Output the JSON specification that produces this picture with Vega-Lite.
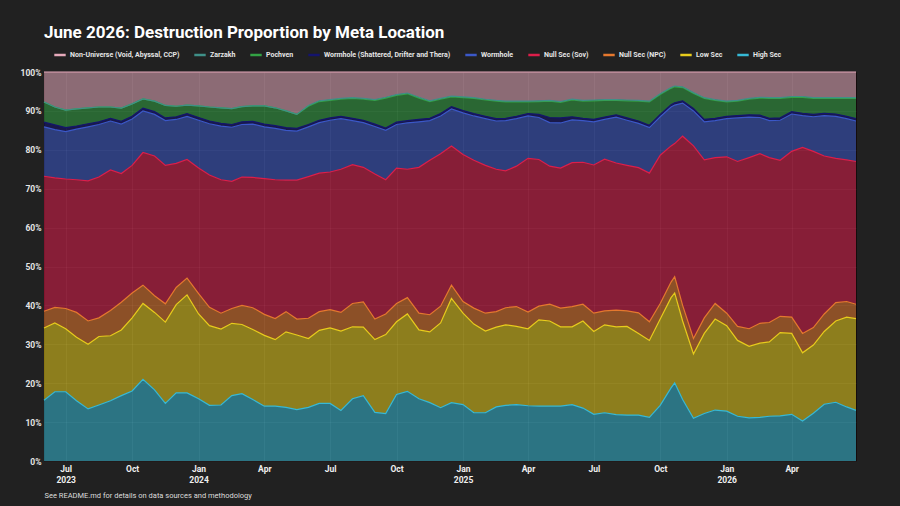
{
  "$schema": "https://vega.github.io/schema/vega-lite/v6.json",
  "description": "Destruction proportion by meta location, June 2023 - June 2026",
  "autosize": {"type": "none"},
  "width": 812,
  "height": 389,
  "padding": {"left": 44, "top": 72, "right": 44, "bottom": 45},
  "background": "#212121",
  "title": {
    "text": "June 2026: Destruction Proportion by Meta Location",
    "anchor": "start",
    "frame": "group",
    "font": "Roboto",
    "fontSize": 17,
    "fontWeight": "bold",
    "color": "#ffffff",
    "offset": 6
  },
  "data": {
    "values": [
      {"d": "2023-06-01", "hs": 15.6, "ls": 18.6, "npc": 4.3, "sov": 34.7, "wh": 12.7, "whs": 1.2, "poch": 5.2, "zar": 0, "nonu": 7.7},
      {"d": "2023-06-16", "hs": 17.8, "ls": 17.7, "npc": 4.0, "sov": 33.3, "wh": 12.4, "whs": 1.2, "poch": 4.6, "zar": 0, "nonu": 9.0},
      {"d": "2023-07-01", "hs": 17.8, "ls": 16.2, "npc": 5.2, "sov": 33.3, "wh": 12.2, "whs": 1.0, "poch": 4.5, "zar": 0, "nonu": 9.8},
      {"d": "2023-07-16", "hs": 15.5, "ls": 16.3, "npc": 6.4, "sov": 34.1, "wh": 13.0, "whs": 0.8, "poch": 4.4, "zar": 0, "nonu": 9.5},
      {"d": "2023-08-01", "hs": 13.4, "ls": 16.6, "npc": 6.0, "sov": 36.0, "wh": 13.9, "whs": 0.8, "poch": 4.1, "zar": 0, "nonu": 9.2},
      {"d": "2023-08-16", "hs": 14.4, "ls": 17.6, "npc": 4.8, "sov": 36.2, "wh": 13.5, "whs": 0.7, "poch": 3.8, "zar": 0, "nonu": 9.0},
      {"d": "2023-09-01", "hs": 15.5, "ls": 16.7, "npc": 6.5, "sov": 36.1, "wh": 12.6, "whs": 0.7, "poch": 2.9, "zar": 0, "nonu": 9.0},
      {"d": "2023-09-16", "hs": 16.8, "ls": 16.9, "npc": 7.1, "sov": 33.1, "wh": 12.7, "whs": 0.7, "poch": 3.4, "zar": 0, "nonu": 9.3},
      {"d": "2023-10-01", "hs": 18.0, "ls": 18.8, "npc": 6.4, "sov": 32.8, "wh": 11.9, "whs": 0.7, "poch": 3.2, "zar": 0, "nonu": 8.2},
      {"d": "2023-10-16", "hs": 21.0, "ls": 19.5, "npc": 4.7, "sov": 34.1, "wh": 10.7, "whs": 0.7, "poch": 2.4, "zar": 0, "nonu": 6.9},
      {"d": "2023-11-01", "hs": 18.3, "ls": 19.9, "npc": 4.3, "sov": 35.9, "wh": 10.7, "whs": 0.7, "poch": 2.7, "zar": 0, "nonu": 7.5},
      {"d": "2023-11-16", "hs": 14.8, "ls": 20.9, "npc": 4.7, "sov": 35.6, "wh": 11.5, "whs": 0.7, "poch": 3.2, "zar": 0, "nonu": 8.6},
      {"d": "2023-12-01", "hs": 17.5, "ls": 22.7, "npc": 4.4, "sov": 31.9, "wh": 11.3, "whs": 0.7, "poch": 2.7, "zar": 0, "nonu": 8.8},
      {"d": "2023-12-16", "hs": 17.5, "ls": 25.2, "npc": 4.3, "sov": 30.5, "wh": 11.1, "whs": 0.7, "poch": 2.2, "zar": 0, "nonu": 8.5},
      {"d": "2024-01-01", "hs": 16.0, "ls": 21.8, "npc": 5.2, "sov": 32.3, "wh": 12.3, "whs": 0.7, "poch": 3.0, "zar": 0, "nonu": 8.7},
      {"d": "2024-01-16", "hs": 14.3, "ls": 20.5, "npc": 4.7, "sov": 34.0, "wh": 13.2, "whs": 0.7, "poch": 3.6, "zar": 0, "nonu": 9.0},
      {"d": "2024-02-01", "hs": 14.4, "ls": 19.5, "npc": 4.1, "sov": 34.3, "wh": 13.8, "whs": 0.7, "poch": 4.0, "zar": 0, "nonu": 9.2},
      {"d": "2024-02-16", "hs": 16.8, "ls": 18.6, "npc": 3.8, "sov": 32.7, "wh": 13.9, "whs": 0.7, "poch": 4.1, "zar": 0, "nonu": 9.4},
      {"d": "2024-03-01", "hs": 17.3, "ls": 17.8, "npc": 4.9, "sov": 33.0, "wh": 13.5, "whs": 0.7, "poch": 3.9, "zar": 0, "nonu": 8.9},
      {"d": "2024-03-16", "hs": 15.8, "ls": 18.0, "npc": 5.6, "sov": 33.5, "wh": 13.7, "whs": 0.7, "poch": 4.0, "zar": 0, "nonu": 8.7},
      {"d": "2024-04-01", "hs": 14.1, "ls": 18.2, "npc": 5.4, "sov": 34.9, "wh": 13.3, "whs": 0.7, "poch": 4.7, "zar": 0, "nonu": 8.7},
      {"d": "2024-04-16", "hs": 14.1, "ls": 17.1, "npc": 5.4, "sov": 35.7, "wh": 13.2, "whs": 0.7, "poch": 4.6, "zar": 0, "nonu": 9.2},
      {"d": "2024-05-01", "hs": 13.8, "ls": 19.4, "npc": 5.2, "sov": 33.8, "wh": 12.8, "whs": 0.7, "poch": 4.3, "zar": 0, "nonu": 10.0},
      {"d": "2024-05-16", "hs": 13.2, "ls": 19.2, "npc": 4.1, "sov": 35.7, "wh": 12.6, "whs": 0.7, "poch": 3.6, "zar": 0, "nonu": 10.9},
      {"d": "2024-06-01", "hs": 13.8, "ls": 17.7, "npc": 5.2, "sov": 36.4, "wh": 12.8, "whs": 0.6, "poch": 4.7, "zar": 0.2, "nonu": 8.6},
      {"d": "2024-06-16", "hs": 14.8, "ls": 18.8, "npc": 4.8, "sov": 35.6, "wh": 13.0, "whs": 0.6, "poch": 4.8, "zar": 0.2, "nonu": 7.4},
      {"d": "2024-07-01", "hs": 14.8, "ls": 19.4, "npc": 4.7, "sov": 35.4, "wh": 13.3, "whs": 0.6, "poch": 4.5, "zar": 0.2, "nonu": 7.1},
      {"d": "2024-07-16", "hs": 13.0, "ls": 20.4, "npc": 4.8, "sov": 36.8, "wh": 13.0, "whs": 0.6, "poch": 4.4, "zar": 0.2, "nonu": 6.8},
      {"d": "2024-08-01", "hs": 16.0, "ls": 18.5, "npc": 6.0, "sov": 35.7, "wh": 11.3, "whs": 0.6, "poch": 5.1, "zar": 0.2, "nonu": 6.6},
      {"d": "2024-08-16", "hs": 16.8, "ls": 17.6, "npc": 6.5, "sov": 34.6, "wh": 11.5, "whs": 0.6, "poch": 5.4, "zar": 0.2, "nonu": 6.8},
      {"d": "2024-09-01", "hs": 12.5, "ls": 18.7, "npc": 5.3, "sov": 37.3, "wh": 12.2, "whs": 0.6, "poch": 6.1, "zar": 0.2, "nonu": 7.1},
      {"d": "2024-09-16", "hs": 12.2, "ls": 20.3, "npc": 5.3, "sov": 34.5, "wh": 12.7, "whs": 0.6, "poch": 7.7, "zar": 0.2, "nonu": 6.5},
      {"d": "2024-10-01", "hs": 17.1, "ls": 18.7, "npc": 4.7, "sov": 34.8, "wh": 11.2, "whs": 0.6, "poch": 6.9, "zar": 0.2, "nonu": 5.8},
      {"d": "2024-10-16", "hs": 17.9, "ls": 19.9, "npc": 4.2, "sov": 33.0, "wh": 11.9, "whs": 0.6, "poch": 6.9, "zar": 0.2, "nonu": 5.4},
      {"d": "2024-11-01", "hs": 16.0, "ls": 17.7, "npc": 4.3, "sov": 37.5, "wh": 11.7, "whs": 0.6, "poch": 5.5, "zar": 0.2, "nonu": 6.5},
      {"d": "2024-11-16", "hs": 15.0, "ls": 18.2, "npc": 4.4, "sov": 39.7, "wh": 10.2, "whs": 0.6, "poch": 4.3, "zar": 0.2, "nonu": 7.4},
      {"d": "2024-12-01", "hs": 13.7, "ls": 21.8, "npc": 4.3, "sov": 39.2, "wh": 9.7, "whs": 0.6, "poch": 3.7, "zar": 0.2, "nonu": 6.8},
      {"d": "2024-12-16", "hs": 15.0, "ls": 26.8, "npc": 3.4, "sov": 35.8, "wh": 9.5, "whs": 0.6, "poch": 2.5, "zar": 0.2, "nonu": 6.2},
      {"d": "2025-01-01", "hs": 14.5, "ls": 23.5, "npc": 3.0, "sov": 37.8, "wh": 10.7, "whs": 0.6, "poch": 3.3, "zar": 0.2, "nonu": 6.4},
      {"d": "2025-01-16", "hs": 12.4, "ls": 22.8, "npc": 4.1, "sov": 38.0, "wh": 11.4, "whs": 0.6, "poch": 3.9, "zar": 0.2, "nonu": 6.6},
      {"d": "2025-02-01", "hs": 12.4, "ls": 21.0, "npc": 4.6, "sov": 38.0, "wh": 12.0, "whs": 0.6, "poch": 4.2, "zar": 0.2, "nonu": 7.0},
      {"d": "2025-02-16", "hs": 13.9, "ls": 20.5, "npc": 4.0, "sov": 36.6, "wh": 12.4, "whs": 0.6, "poch": 4.5, "zar": 0.2, "nonu": 7.3},
      {"d": "2025-03-01", "hs": 14.3, "ls": 20.7, "npc": 4.4, "sov": 35.2, "wh": 12.9, "whs": 0.6, "poch": 4.2, "zar": 0.2, "nonu": 7.5},
      {"d": "2025-03-16", "hs": 14.5, "ls": 20.1, "npc": 5.1, "sov": 36.1, "wh": 12.2, "whs": 0.6, "poch": 3.7, "zar": 0.2, "nonu": 7.5},
      {"d": "2025-04-01", "hs": 14.2, "ls": 19.8, "npc": 4.3, "sov": 39.5, "wh": 10.9, "whs": 0.6, "poch": 3.0, "zar": 0.2, "nonu": 7.5},
      {"d": "2025-04-16", "hs": 14.1, "ls": 22.2, "npc": 3.5, "sov": 37.7, "wh": 10.8, "whs": 0.8, "poch": 3.3, "zar": 0.2, "nonu": 7.4},
      {"d": "2025-05-01", "hs": 14.1, "ls": 21.9, "npc": 4.3, "sov": 35.5, "wh": 11.2, "whs": 1.3, "poch": 4.2, "zar": 0.2, "nonu": 7.3},
      {"d": "2025-05-16", "hs": 14.1, "ls": 20.4, "npc": 4.8, "sov": 36.0, "wh": 11.6, "whs": 1.3, "poch": 4.0, "zar": 0.2, "nonu": 7.6},
      {"d": "2025-06-01", "hs": 14.5, "ls": 20.0, "npc": 5.2, "sov": 37.0, "wh": 11.0, "whs": 0.8, "poch": 4.3, "zar": 0.2, "nonu": 7.0},
      {"d": "2025-06-16", "hs": 13.6, "ls": 22.4, "npc": 4.3, "sov": 36.5, "wh": 10.7, "whs": 0.6, "poch": 4.4, "zar": 0.2, "nonu": 7.3},
      {"d": "2025-07-01", "hs": 12.0, "ls": 21.3, "npc": 4.7, "sov": 38.1, "wh": 11.1, "whs": 0.6, "poch": 4.8, "zar": 0.2, "nonu": 7.2},
      {"d": "2025-07-16", "hs": 12.4, "ls": 22.6, "npc": 3.6, "sov": 39.0, "wh": 10.2, "whs": 0.6, "poch": 4.3, "zar": 0.2, "nonu": 7.1},
      {"d": "2025-08-01", "hs": 11.9, "ls": 22.6, "npc": 4.3, "sov": 37.8, "wh": 11.8, "whs": 0.6, "poch": 3.7, "zar": 0.2, "nonu": 7.1},
      {"d": "2025-08-16", "hs": 11.8, "ls": 22.8, "npc": 4.0, "sov": 37.4, "wh": 11.6, "whs": 0.6, "poch": 4.4, "zar": 0.2, "nonu": 7.2},
      {"d": "2025-09-01", "hs": 11.8, "ls": 21.0, "npc": 5.3, "sov": 37.3, "wh": 11.4, "whs": 0.6, "poch": 5.1, "zar": 0.2, "nonu": 7.3},
      {"d": "2025-09-16", "hs": 11.2, "ls": 19.8, "npc": 4.8, "sov": 38.2, "wh": 11.7, "whs": 0.6, "poch": 6.0, "zar": 0.2, "nonu": 7.5},
      {"d": "2025-10-01", "hs": 14.3, "ls": 22.2, "npc": 4.0, "sov": 38.1, "wh": 9.9, "whs": 0.6, "poch": 5.1, "zar": 0.2, "nonu": 5.6},
      {"d": "2025-10-16", "hs": 18.8, "ls": 23.2, "npc": 4.0, "sov": 35.0, "wh": 10.0, "whs": 0.6, "poch": 4.2, "zar": 0.2, "nonu": 4.0},
      {"d": "2025-10-21", "hs": 20.1, "ls": 23.1, "npc": 4.2, "sov": 34.2, "wh": 9.9, "whs": 0.6, "poch": 4.1, "zar": 0.2, "nonu": 3.6},
      {"d": "2025-11-01", "hs": 15.8, "ls": 20.2, "npc": 4.0, "sov": 43.5, "wh": 8.5, "whs": 0.6, "poch": 3.4, "zar": 0.2, "nonu": 3.8},
      {"d": "2025-11-16", "hs": 11.0, "ls": 16.5, "npc": 4.0, "sov": 49.5, "wh": 9.0, "whs": 0.6, "poch": 3.9, "zar": 0.2, "nonu": 5.3},
      {"d": "2025-12-01", "hs": 12.2, "ls": 20.6, "npc": 4.0, "sov": 40.6, "wh": 9.8, "whs": 0.6, "poch": 5.4, "zar": 0.2, "nonu": 6.6},
      {"d": "2025-12-16", "hs": 13.1, "ls": 23.4, "npc": 4.0, "sov": 37.5, "wh": 9.5, "whs": 0.6, "poch": 4.6, "zar": 0.2, "nonu": 7.1},
      {"d": "2026-01-01", "hs": 12.8, "ls": 22.0, "npc": 3.2, "sov": 40.2, "wh": 9.8, "whs": 0.6, "poch": 3.7, "zar": 0.2, "nonu": 7.5},
      {"d": "2026-01-16", "hs": 11.5, "ls": 19.5, "npc": 3.6, "sov": 42.4, "wh": 11.2, "whs": 0.6, "poch": 3.7, "zar": 0.2, "nonu": 7.3},
      {"d": "2026-02-01", "hs": 11.1, "ls": 18.4, "npc": 4.5, "sov": 44.0, "wh": 10.4, "whs": 0.6, "poch": 4.0, "zar": 0.2, "nonu": 6.8},
      {"d": "2026-02-16", "hs": 11.2, "ls": 19.1, "npc": 5.1, "sov": 43.6, "wh": 9.3, "whs": 0.6, "poch": 4.4, "zar": 0.2, "nonu": 6.5},
      {"d": "2026-03-01", "hs": 11.5, "ls": 19.1, "npc": 5.0, "sov": 42.4, "wh": 9.5, "whs": 0.6, "poch": 5.1, "zar": 0.2, "nonu": 6.6},
      {"d": "2026-03-16", "hs": 11.6, "ls": 21.4, "npc": 4.2, "sov": 40.1, "wh": 10.3, "whs": 0.6, "poch": 5.0, "zar": 0.2, "nonu": 6.6},
      {"d": "2026-04-01", "hs": 12.0, "ls": 20.8, "npc": 4.2, "sov": 42.6, "wh": 9.6, "whs": 0.6, "poch": 3.7, "zar": 0.2, "nonu": 6.3},
      {"d": "2026-04-16", "hs": 10.3, "ls": 17.5, "npc": 5.0, "sov": 47.8, "wh": 8.2, "whs": 0.6, "poch": 4.1, "zar": 0.2, "nonu": 6.3},
      {"d": "2026-05-01", "hs": 12.3, "ls": 17.5, "npc": 4.5, "sov": 45.3, "wh": 8.9, "whs": 0.6, "poch": 4.1, "zar": 0.2, "nonu": 6.6},
      {"d": "2026-05-16", "hs": 14.6, "ls": 18.7, "npc": 4.5, "sov": 40.6, "wh": 10.4, "whs": 0.6, "poch": 3.8, "zar": 0.2, "nonu": 6.6},
      {"d": "2026-06-01", "hs": 15.1, "ls": 20.9, "npc": 4.7, "sov": 37.1, "wh": 10.8, "whs": 0.6, "poch": 4.0, "zar": 0.2, "nonu": 6.6},
      {"d": "2026-06-16", "hs": 13.9, "ls": 23.1, "npc": 4.0, "sov": 36.4, "wh": 10.6, "whs": 0.6, "poch": 4.6, "zar": 0.2, "nonu": 6.6},
      {"d": "2026-06-29", "hs": 13.0, "ls": 23.6, "npc": 3.7, "sov": 36.7, "wh": 10.4, "whs": 0.6, "poch": 5.2, "zar": 0.2, "nonu": 6.6}
    ]
  },
  "transform": [
    {"fold": ["hs", "ls", "npc", "sov", "wh", "whs", "poch", "zar", "nonu"], "as": ["key", "share"]},
    {
      "lookup": "key",
      "from": {
        "data": {
          "values": [
            {"key": "nonu", "rank": 1},
            {"key": "zar", "rank": 2},
            {"key": "poch", "rank": 3},
            {"key": "whs", "rank": 4},
            {"key": "wh", "rank": 5},
            {"key": "sov", "rank": 6},
            {"key": "npc", "rank": 7},
            {"key": "ls", "rank": 8},
            {"key": "hs", "rank": 9}
          ]
        },
        "key": "key",
        "fields": ["rank"]
      }
    }
  ],
  "encoding": {
    "x": {
      "field": "d",
      "type": "temporal",
      "scale": {"type": "utc", "domain": ["2023-06-01", "2026-06-29"]},
      "axis": {
        "title": "See README.md for details on data sources and methodology",
        "titleAnchor": "start",
        "titleAlign": "left",
        "titleFontSize": 7.5,
        "titleFontWeight": "normal",
        "titleColor": "#dddddd",
        "titlePadding": 8,
        "tickCount": {"interval": "month", "step": 3},
        "labelExpr": "utcmonth(datum.value) == 0 || datum.index == 0 ? [utcFormat(datum.value, '%b'), utcFormat(datum.value, '%Y')] : utcFormat(datum.value, '%b')",
        "labelFontSize": 8.5,
        "labelFontWeight": "bold",
        "labelColor": "#f0f0f0",
        "labelPadding": 3,
        "labelLineHeight": 11,
        "ticks": false,
        "domain": false,
        "grid": true,
        "gridColor": "#ffffff",
        "gridOpacity": 0.07
      }
    },
    "y": {
      "field": "share",
      "type": "quantitative",
      "stack": "normalize",
      "scale": {"domain": [0, 1], "nice": false},
      "axis": {
        "title": null,
        "format": ".0%",
        "values": [0, 0.1, 0.2, 0.3, 0.4, 0.5, 0.6, 0.7, 0.8, 0.9, 1],
        "labelFontSize": 8.5,
        "labelFontWeight": "bold",
        "labelColor": "#e6e6e6",
        "labelPadding": 3,
        "ticks": false,
        "domain": false,
        "grid": true,
        "gridColor": "#ffffff",
        "gridOpacity": 0.06
      }
    },
    "color": {
      "field": "rank",
      "type": "nominal",
      "scale": {
        "domain": [1, 2, 3, 4, 5, 6, 7, 8, 9],
        "range": ["#e6aabb", "#3f9088", "#33a244", "#14146e", "#3b58c8", "#dc1e4a", "#e5782e", "#e8cc1c", "#36b9d6"]
      },
      "legend": {
        "title": null,
        "orient": "top",
        "direction": "horizontal",
        "offset": 9,
        "labelExpr": "datum.value == 1 ? 'Non-Universe (Void, Abyssal, CCP)' : datum.value == 2 ? 'Zarzakh' : datum.value == 3 ? 'Pochven' : datum.value == 4 ? 'Wormhole (Shattered, Drifter and Thera)' : datum.value == 5 ? 'Wormhole' : datum.value == 6 ? 'Null Sec (Sov)' : datum.value == 7 ? 'Null Sec (NPC)' : datum.value == 8 ? 'Low Sec' : 'High Sec'",
        "symbolType": "stroke",
        "symbolSize": 130,
        "symbolStrokeWidth": 2.5,
        "symbolOpacity": 1,
        "symbolOffset": 9,
        "labelFontSize": 7,
        "labelFontWeight": "bold",
        "labelColor": "#e6e6e6",
        "labelOffset": 3,
        "labelLimit": 300,
        "columnPadding": 4
      }
    }
  },
  "layer": [
    {"mark": {"type": "area", "fillOpacity": 0.55}},
    {"mark": {"type": "line", "strokeWidth": 1.2}}
  ],
  "config": {
    "font": "Roboto",
    "view": {"stroke": "#140c0c", "strokeWidth": 1}
  }
}
